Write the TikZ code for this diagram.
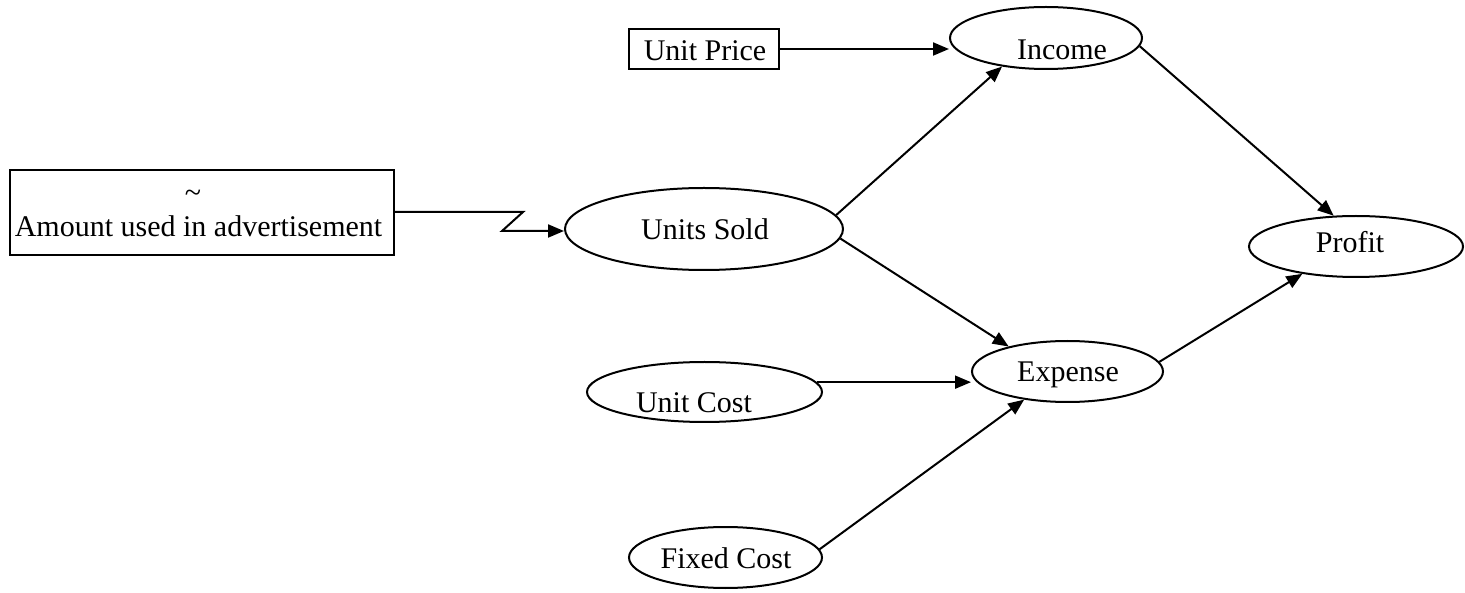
\documentclass[tikz,border=0pt]{standalone}
\usepackage{fontspec}
\setmainfont{Liberation Serif}
\usetikzlibrary{shapes.geometric,arrows.meta}
\begin{document}
\begin{tikzpicture}[x=1pt,y=-1pt,
  ell/.style={draw, ellipse, line width=2pt, inner sep=0pt},
  rbox/.style={draw, rectangle, line width=2pt, inner sep=0pt},
  txt/.style={font=\fontsize{30}{36}\selectfont, inner sep=0pt, anchor=base},
  conn/.style={line width=2pt, -{Triangle[length=16pt,width=13pt]}}
]
\useasboundingbox (0,0) rectangle (1465,593);
% shapes
\node[rbox, minimum width=384, minimum height=85] (amount) at (201.5,212.5) {};
\node[rbox, minimum width=150, minimum height=40] (up) at (704,49) {};
\node[ell, minimum width=278, minimum height=82] (us) at (704,229) {};
\node[ell, minimum width=192, minimum height=62] (income) at (1046,38) {};
\node[ell, minimum width=214, minimum height=61] (profit) at (1356,246.5) {};
\node[ell, minimum width=191, minimum height=61] (expense) at (1067.5,371.5) {};
\node[ell, minimum width=235, minimum height=60] (uc) at (704.5,392) {};
\node[ell, minimum width=193, minimum height=61] (fc) at (725.5,557.5) {};
% texts
\node[txt] (tildeT) at (193,203) {\textasciitilde};
\node[txt] (amountT) at (198.5,237) {Amount used in advertisement};
\node[txt] (upT) at (705,61) {Unit Price};
\node[txt] (usT) at (705,240) {Units Sold};
\node[txt] (incomeT) at (1062,60) {Income};
\node[txt] (profitT) at (1350,253) {Profit};
\node[txt] (expenseT) at (1068,382) {Expense};
\node[txt] (ucT) at (694,413) {Unit Cost};
\node[txt] (fcT) at (726,568) {Fixed Cost};
% connectors
\coordinate (z1) at (523,212);
\coordinate (z2) at (502,231);
\draw[conn] (up.east) -- (up.east -| income.west);
\draw[conn] (amount.east |- z1) -- (z1) -- (z2) -- (z2 -| us.west);
\draw[conn] (us.6) -- (income.213);
\draw[conn] (us.356) -- (expense.157);
\draw[conn] (income.355) -- (profit.126);
\draw[conn] (expense.6) -- (profit.207);
\draw[conn] (uc.5) -- (uc.5 -| expense.west);
\draw[conn] (fc.5) -- (expense.213);
\end{tikzpicture}
\end{document}
